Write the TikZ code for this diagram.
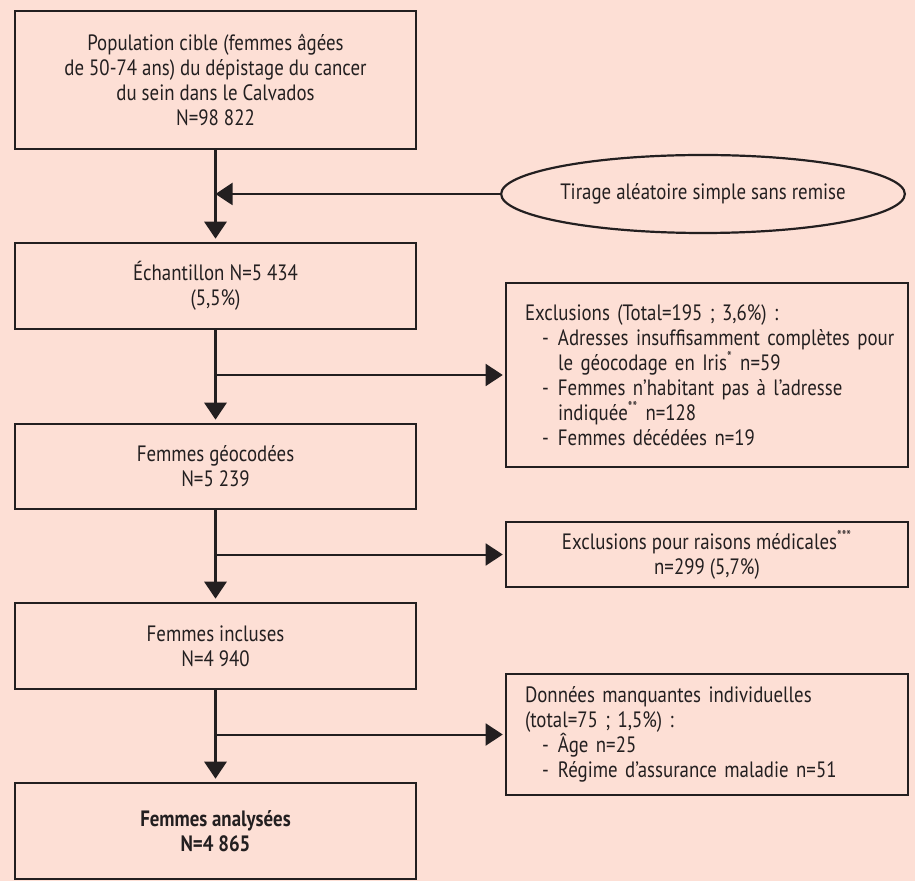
\documentclass[tikz,border=0pt]{standalone}
\usepackage{fontspec}
\setmainfont{PT Sans}[FakeStretch=0.85]
\usepackage{tikz}
\usetikzlibrary{arrows.meta,positioning,shapes.geometric}
\definecolor{fond}{RGB}{253,223,213}
\definecolor{trait}{RGB}{35,31,32}
\newcommand{\tiret}[1]{\hspace*{8.5pt}\makebox[8pt][l]{-}\mbox{#1}}
\newcommand{\suite}[1]{\hspace*{16.5pt}\mbox{#1}}

\begin{document}
\begin{tikzpicture}[x=0.5pt,y=-0.5pt,
  texte/.style={font=\fontsize{11.1}{12.5}\selectfont,text=trait},
  etape/.style={texte,draw=trait,line width=1.3pt,minimum width=200.5pt,inner sep=0pt,align=center},
  exclu/.style={texte,draw=trait,line width=1.3pt,minimum width=201pt,text width=182pt,inner xsep=9.5pt,inner ysep=0pt,align=left},
  fleche/.style={draw=trait,line width=1.6pt,-{Triangle[length=8.5pt,width=11pt]},shorten >=1.5pt},
  branche/.style={draw=trait,line width=1pt,-{Triangle[length=8.5pt,width=11pt]},shorten >=1pt}]
\useasboundingbox[fill=fond] (0,0) rectangle (915,881);

% colonne principale
\node[etape,minimum height=69pt] (pop) at (215.5,80) {Population cible (femmes âgées\\de 50-74 ans) du dépistage du cancer\\du sein dans le Calvados\\N=98 822};
\node[etape,minimum height=43pt] (ech) at (215.5,286) {Échantillon N=5 434\\(5,5\%)};
\node[etape,minimum height=42.5pt] (geo) at (215.5,466.5) {Femmes géocodées\\N=5 239};
\node[etape,minimum height=43pt] (incl) at (215.5,646) {Femmes incluses\\N=4 940};
\node[etape,minimum height=48pt,font=\fontsize{11.1}{12.5}\selectfont\bfseries] (anal) at (215.5,831) {Femmes analysées\\N=4 865};

% colonne de droite
\node[texte,draw=trait,line width=1.1pt,ellipse,minimum width=201pt,minimum height=39pt,inner sep=0pt] (tirage) at (703,194) {Tirage aléatoire simple sans remise};
\node[exclu,minimum height=92pt] (excl1) at (707,375) {Exclusions (Total=195 ; 3,6\%) :\\
\tiret{Adresses insuffisamment complètes pour}\\
\suite{le géocodage en Iris\textsuperscript{*} n=59}\\
\tiret{Femmes n’habitant pas à l’adresse}\\
\suite{indiquée\textsuperscript{**} n=128}\\
\tiret{Femmes décédées n=19}};
\node[etape,minimum width=201pt,minimum height=32.5pt] (excl2) at (707,554.5) {Exclusions pour raisons médicales\textsuperscript{***}\\n=299 (5,7\%)};
\node[exclu,minimum height=60.5pt] (excl3) at (707,734.5) {Données manquantes individuelles\\
(total=75 ; 1,5\%) :\\
\tiret{Âge n=25}\\
\tiret{Régime d’assurance maladie n=51}};

% fleches
\draw[fleche] (pop) -- (ech);
\draw[fleche] (ech) -- (geo);
\draw[fleche] (geo) -- (incl);
\draw[fleche] (incl) -- (anal);
\draw[branche,shorten >=0pt] (tirage.west) -- (pop.south |- tirage.west);
\draw[branche] (pop.south |- excl1.west) -- (excl1.west);
\draw[branche] (pop.south |- excl2.west) -- (excl2.west);
\draw[branche] (pop.south |- excl3.west) -- (excl3.west);
\end{tikzpicture}
\end{document}
